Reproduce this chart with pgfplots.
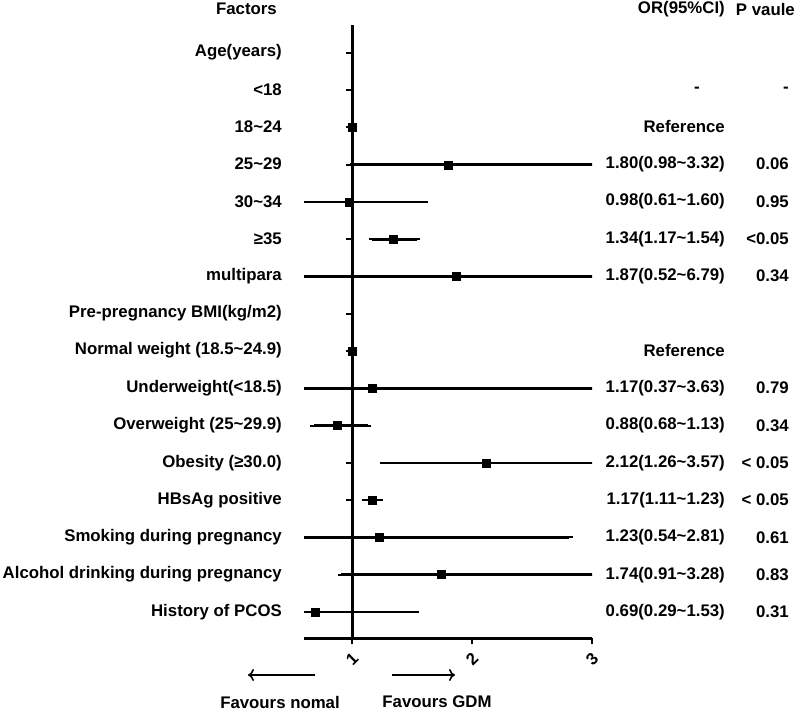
\documentclass[border=0pt]{standalone}
\usepackage{pgfplots}
\pgfplotsset{compat=1.18}
\usepackage{pgfplotstable}
\usetikzlibrary{arrows.meta}
\usepackage{fontspec}
\setmainfont{Liberation Sans}
\newcommand{\tl}{\textasciitilde}

% row: 16 = Age(years) at the top ... 1 = History of PCOS at the bottom
\pgfplotstableread{
y  or   lo   hi
13 1.80 0.98 3.32
12 0.98 0.61 1.60
11 1.34 1.17 1.54
10 1.87 0.52 6.79
7  1.17 0.37 3.63
6  0.88 0.68 1.13
5  2.12 1.26 3.57
4  1.17 1.11 1.23
3  1.23 0.54 2.81
2  1.74 0.91 3.28
1  0.69 0.29 1.53
}\ortable

\begin{document}
\begin{tikzpicture}[every node/.style={font=\fontsize{16.8}{20}\selectfont\bfseries, inner sep=0pt}]
\useasboundingbox (0pt,0pt) rectangle (796pt,-711pt);
\begin{axis}[
    at={(304pt,-638pt)}, anchor=south west,
    scale only axis, width=288pt, height=613pt,
    xmin=0.6, xmax=3, ymin=0.3, ymax=16.75,
    axis x line*=bottom, axis y line=none,
    axis line style={line width=3pt},
    xtick={1,2,3}, ytick=\empty,
    tick align=outside, major tick length=6pt,
    tick style={line width=2.4pt, black},
    /pgf/number format/assume math mode=true,
    xticklabel style={font=\fontsize{16.8}{20}\selectfont\bfseries, anchor=center, yshift=-15pt, rotate=45},
    clip mode=individual,
]
% reference line at OR = 1
\draw[black, line width=3pt] (axis cs:1,0.3) -- (axis cs:1,16.75);
\addplot[only marks, black, mark=-, mark size=3pt, line width=2pt, mark options={xshift=-3pt}]
  coordinates {(1,1) (1,2) (1,3) (1,4) (1,5) (1,6) (1,7) (1,8) (1,9) (1,10) (1,11) (1,12) (1,13) (1,14) (1,15) (1,16)};
% reference categories
\addplot[only marks, black, mark=square*, mark size=4pt] coordinates {(1,14) (1,8)};
% odds ratios with 95% CI
\addplot[only marks, black, mark=square*, mark size=4pt,
  error bars/.cd, x dir=both, x explicit,
  error bar style={line width=2.6pt}, error mark options={mark size=3.5pt, line width=2pt}]
  table[x=or, y=y,
        x error plus expr=\thisrow{hi}-\thisrow{or},
        x error minus expr=\thisrow{or}-\thisrow{lo}] {\ortable};
\end{axis}

% headers
\node[anchor=east] at (277pt,-9pt) {Factors};
\node[anchor=east] at (725pt,-9pt) {OR(95\%CI)};
\node[anchor=east] at (795pt,-9pt) {P vaule};

% factor labels
\foreach \k/\lab in {16/{Age(years)}, 15/{<18}, 14/{18\tl24}, 13/{25\tl29}, 12/{30\tl34}, 11/{≥35}, 10/{multipara},
  9/{Pre-pregnancy BMI(kg/m2)}, 8/{Normal weight (18.5\tl24.9)}, 7/{Underweight(<18.5)}, 6/{Overweight (25\tl29.9)},
  5/{Obesity (≥30.0)}, 4/{HBsAg positive}, 3/{Smoking during pregnancy}, 2/{Alcohol drinking during pregnancy}, 1/{History of PCOS}}
  {\node[anchor=east] at (282pt,{(-612+(\k-1)*37.333)*1pt}) {\lab};}

% OR (95% CI) column
\foreach \k/\lab in {14/{Reference}, 13/{1.80(0.98\tl3.32)}, 12/{0.98(0.61\tl1.60)}, 11/{1.34(1.17\tl1.54)}, 10/{1.87(0.52\tl6.79)},
  8/{Reference}, 7/{1.17(0.37\tl3.63)}, 6/{0.88(0.68\tl1.13)}, 5/{2.12(1.26\tl3.57)}, 4/{1.17(1.11\tl1.23)},
  3/{1.23(0.54\tl2.81)}, 2/{1.74(0.91\tl3.28)}, 1/{0.69(0.29\tl1.53)}}
  {\node[anchor=east] at (725pt,{(-612+(\k-1)*37.333)*1pt}) {\lab};}
\node[anchor=east] at (700pt,{(-612+14*37.333)*1pt}) {-};

% P value column
\foreach \k/\lab in {15/{-}, 13/{0.06}, 12/{0.95}, 11/{<0.05}, 10/{0.34}, 7/{0.79}, 6/{0.34}, 5/{< 0.05}, 4/{< 0.05}, 3/{0.61}, 2/{0.83}, 1/{0.31}}
  {\node[anchor=east] at (789pt,{(-612+(\k-1)*37.333)*1pt}) {\lab};}

\draw[-{To[length=6pt,width=12pt]}, line width=1.6pt] (315pt,-675pt) -- (248pt,-675pt);
\draw[-{To[length=6pt,width=12pt]}, line width=1.6pt] (392pt,-675pt) -- (455pt,-675pt);
\node at (280pt,-702pt) {Favours nomal};
\node at (437pt,-702pt) {Favours GDM};
\end{tikzpicture}
\end{document}
